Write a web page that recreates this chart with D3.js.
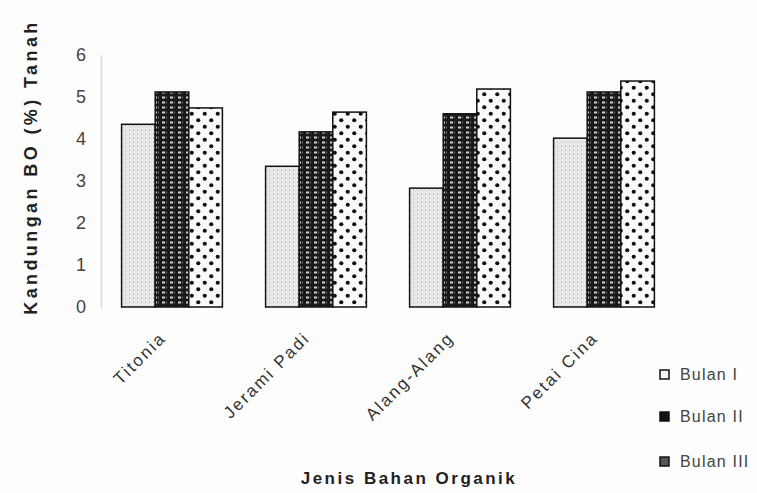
<!DOCTYPE html>
<html><head><meta charset="utf-8">
<script src="https://cdn.jsdelivr.net/npm/d3@7"></script>
<style>body{margin:0;background:#fff}svg{display:block}text{font-family:"Liberation Sans",Arial,sans-serif}</style>
</head><body>
<svg id="c" width="757" height="493"></svg>
<script>
const categories = ["Titonia", "Jerami Padi", "Alang-Alang", "Petai Cina"];
const seriesNames = ["Bulan I", "Bulan II", "Bulan III"];
const bulan1 = [4.35, 3.35, 2.83, 4.02];
const bulan2 = [5.12, 4.17, 4.6, 5.12];
const bulan3 = [4.74, 4.64, 5.19, 5.38];
const yTicks = [0, 1, 2, 3, 4, 5, 6];
const seriesValues = [bulan1, bulan2, bulan3];

const svg = d3.select("#c");
svg.append("rect").attr("width", 757).attr("height", 493).attr("fill", "#fdfdfd");
const defs = svg.append("defs");

// pattern 1: light stipple
const p1 = defs.append("pattern").attr("id", "p0").attr("patternUnits", "userSpaceOnUse").attr("width", 4).attr("height", 4);
p1.append("rect").attr("width", 4).attr("height", 4).attr("fill", "#ebebeb");
p1.append("rect").attr("x", 1).attr("y", 1).attr("width", 1).attr("height", 2).attr("fill", "#c4c4c4");
p1.append("rect").attr("x", 3).attr("y", 3).attr("width", 1).attr("height", 1).attr("fill", "#d6d6d6");
// pattern 2: dark with white small rects
const p2 = defs.append("pattern").attr("id", "p1").attr("patternUnits", "userSpaceOnUse").attr("width", 8).attr("height", 5);
p2.append("rect").attr("width", 8).attr("height", 5).attr("fill", "#1a1a1a");
p2.append("rect").attr("x", 2).attr("y", 1.5).attr("width", 3).attr("height", 2).attr("fill", "#d0d0d0");
p2.append("rect").attr("x", 6).attr("y", 1.5).attr("width", 1).attr("height", 2).attr("fill", "#6a6a6a");
// pattern 3: white with black dots (offset rows)
const p3 = defs.append("pattern").attr("id", "p2").attr("patternUnits", "userSpaceOnUse").attr("width", 13).attr("height", 13);
p3.append("rect").attr("width", 13).attr("height", 13).attr("fill", "#fafafa");
p3.append("circle").attr("cx", 3.25).attr("cy", 3.25).attr("r", 2.1).attr("fill", "#111");
p3.append("circle").attr("cx", 9.75).attr("cy", 9.75).attr("r", 2.1).attr("fill", "#111");

const x = d3.scaleBand().domain(categories).range([100, 676]).paddingInner(0.3).paddingOuter(0.15);
const xs = d3.scaleBand().domain(seriesNames).range([0, x.bandwidth()]);
const y = d3.scaleLinear().domain([0, 6]).range([307, 55]);

// y axis
const ya = svg.append("g").attr("transform", "translate(101,0)")
  .call(d3.axisLeft(y).tickValues(yTicks).tickSize(0).tickPadding(15).tickFormat(d3.format("d")));
ya.select(".domain").attr("stroke", "#d8d8d8").attr("stroke-width", 1.5);
ya.selectAll("text").attr("font-size", 18).attr("fill", "#444").style("font-family", '"Liberation Sans",Arial,sans-serif');

// bars
seriesNames.forEach((s, si) => {
  svg.append("g").selectAll("rect").data(categories).join("rect")
    .attr("x", c => x(c) + xs(s))
    .attr("y", (c, i) => y(seriesValues[si][i]))
    .attr("width", xs.bandwidth())
    .attr("height", (c, i) => y(0) - y(seriesValues[si][i]))
    .attr("fill", `url(#p${si})`)
    .attr("stroke", "#111").attr("stroke-width", 1.5);
});

// x labels
svg.append("g").selectAll("text").data(categories).join("text")
  .attr("transform", c => `translate(${x(c) + x.bandwidth() / 2 - 5},${339}) rotate(-45)`)
  .attr("text-anchor", "end")
  .attr("font-size", 17).attr("letter-spacing", 2.2).attr("fill", "#333")
  .text(c => c);

// axis titles
svg.append("text").attr("transform", "translate(37,167) rotate(-90)")
  .attr("text-anchor", "middle").attr("font-size", 18).attr("font-weight", "bold")
  .attr("letter-spacing", 3.4).attr("fill", "#222").text("Kandungan BO (%) Tanah");
svg.append("text").attr("x", 409).attr("y", 484)
  .attr("text-anchor", "middle").attr("font-size", 17).attr("font-weight", "bold")
  .attr("letter-spacing", 2.5).attr("fill", "#222").text("Jenis Bahan Organik");

// legend
const legY = [375, 417, 462];
const lg = svg.append("g").selectAll("g").data(seriesNames).join("g")
  .attr("transform", (s, i) => `translate(660,${legY[i]})`);
lg.append("rect").attr("x", 0).attr("y", -5).attr("width", 9).attr("height", 9)
  .attr("fill", (s, i) => ["#f4f4f4", "#111", "#555"][i]).attr("stroke", "#111").attr("stroke-width", 1.5);
lg.append("text").attr("x", 20).attr("y", 5).attr("font-size", 16).attr("letter-spacing", 1.2)
  .attr("fill", "#444").text(s => s);
</script>
</body></html>
